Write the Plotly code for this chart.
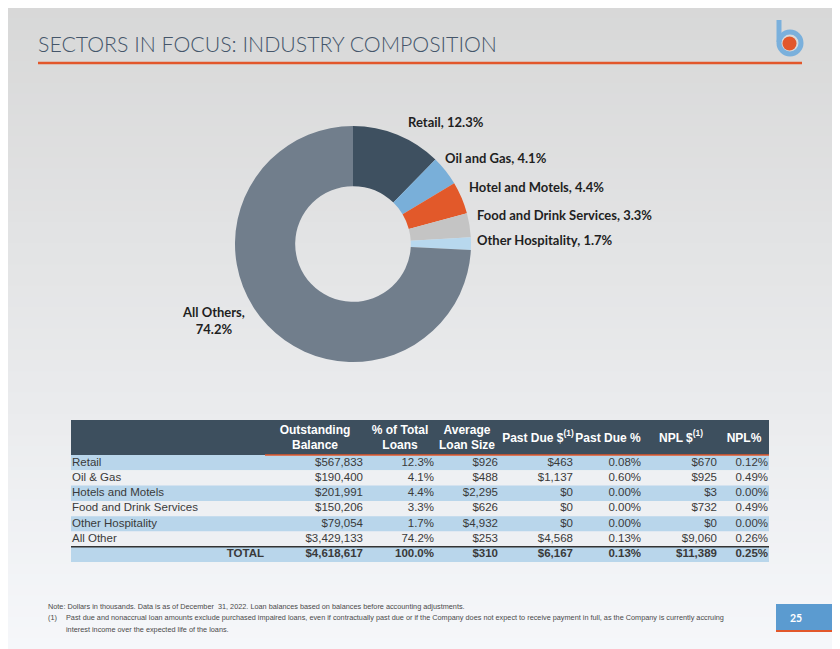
import plotly.graph_objects as go

# ---------------- data ----------------
pie_labels = ["Retail", "Oil and Gas", "Hotel and Motels", "Food and Drink Services",
              "Other Hospitality", "All Others"]
pie_pct = [12.3, 4.1, 4.4, 3.3, 1.7, 74.2]

categories = ["Retail", "Oil & Gas", "Hotels and Motels", "Food and Drink Services",
              "Other Hospitality", "All Other"]
balance = [567833, 190400, 201991, 150206, 79054, 3429133]
pct_total = [12.3, 4.1, 4.4, 3.3, 1.7, 74.2]
avg_loan = [926, 488, 2295, 626, 4932, 253]
past_due = [463, 1137, 0, 0, 0, 4568]
past_due_pct = [0.08, 0.60, 0.00, 0.00, 0.00, 0.13]
npl = [670, 925, 3, 732, 0, 9060]
npl_pct = [0.12, 0.49, 0.00, 0.49, 0.00, 0.26]

total_label = "TOTAL"
total_balance = 4618617
total_pct = 100.0
total_avg = 310
total_past_due = 6167
total_past_due_pct = 0.13
total_npl = 11389
total_npl_pct = 0.25

headers = ["Outstanding<br>Balance", "% of Total<br>Loans", "Average<br>Loan Size",
           "Past Due $<sup>(1)</sup>", "Past Due %", "NPL $<sup>(1)</sup>", "NPL%"]

title_text = "SECTORS IN FOCUS: INDUSTRY COMPOSITION"
note_text = ("Note: Dollars in thousands. Data is as of December  31, 2022. "
             "Loan balances based on balances before accounting adjustments.")
fn_mark = "(1)"
fn_line1 = ("Past due and nonaccrual loan amounts exclude purchased impaired loans, even if "
            "contractually past due or if the Company does not expect to receive payment in "
            "full, as the Company is currently accruing")
fn_line2 = "interest income over the expected life of the loans."
page_no = "25"

# ---------------- styling / layout helpers ----------------
PW, PH = 840, 649          # page size
OFF = 8                    # browser body margin
W, H = PW - OFF, PH - OFF  # figure size
pie_colors = ["#3e5060", "#79afd9", "#e2592a", "#c4c4c4", "#b8d8ee", "#717e8c"]
DARK = "#3d4f5e"
ORANGE = "#e2572b"
BLUE_ROW = "#b9d6eb"
GRAY_ROW = "#eef0f3"
TXT = "#3a3a3a"
TFONT = "Liberation Sans, Arial"


def px(x):
    return (x - OFF) / W


def py(y):
    return 1 - (y - OFF) / H


def money(v, bold=False):
    s = f"${v:,.0f}"
    return f"<b>{s}</b>" if bold else s


def pct(v, d, bold=False):
    s = f"{v:.{d}f}%"
    return f"<b>{s}</b>" if bold else s


columns = [
    [money(v) for v in balance] + [money(total_balance, True)],
    [pct(v, 1) for v in pct_total] + [pct(total_pct, 1, True)],
    [money(v) for v in avg_loan] + [money(total_avg, True)],
    [money(v) for v in past_due] + [money(total_past_due, True)],
    [pct(v, 2) for v in past_due_pct] + [pct(total_past_due_pct, 2, True)],
    [money(v) for v in npl] + [money(total_npl, True)],
    [pct(v, 2) for v in npl_pct] + [pct(total_npl_pct, 2, True)],
]
nrows = len(categories) + 1

# table geometry (page pixels)
TL, TR = 71, 769
HDR_TOP, HDR_BOT = 420, 455
RH = 15.3
col_right = [362, 433, 497, 572, 640, 716, 767]
col_center = [315, 400, 467, 538, 608, 681, 744]
row_y = [HDR_BOT + RH * (i + 0.5) for i in range(nrows)]
row_fill = [BLUE_ROW if i % 2 == 0 else GRAY_ROW for i in range(nrows)]
row_fill[-1] = BLUE_ROW

fig = go.Figure()

# ---- pie ----
cx, cy, r = 353, 244, 118
fig.add_trace(go.Pie(
    labels=pie_labels, values=pie_pct, sort=False, direction="clockwise", rotation=0,
    hole=0.49, textinfo="none", showlegend=False, hoverinfo="label+percent",
    marker=dict(colors=pie_colors, line=dict(width=0)),
    domain=dict(x=[px(cx - r), px(cx + r)], y=[py(cy + r), py(cy - r)]),
))

# ---- table: row fills ----
fig.add_trace(go.Bar(
    orientation="h", y=[(HDR_TOP + HDR_BOT) / 2], x=[TR - TL], base=TL,
    width=HDR_BOT - HDR_TOP, marker=dict(color=DARK, line=dict(width=0)),
    hoverinfo="skip", showlegend=False,
))
fig.add_trace(go.Bar(
    orientation="h", y=row_y, x=[TR - TL] * nrows, base=TL, width=RH,
    marker=dict(color=row_fill, line=dict(width=0)),
    hoverinfo="skip", showlegend=False,
))

# ---- table: header text ----
fig.add_trace(go.Scatter(
    x=col_center, y=[438.5] * len(headers), mode="text",
    text=[f"<b>{h}</b>" for h in headers], textposition="middle center",
    textfont=dict(family=TFONT, size=12, color="white"),
    hoverinfo="skip", showlegend=False,
))

# ---- table: body text ----
fig.add_trace(go.Scatter(
    x=[72] * (nrows - 1), y=row_y[:-1], mode="text", text=categories,
    textposition="middle right", textfont=dict(family=TFONT, size=11.5, color=TXT),
    hoverinfo="skip", showlegend=False,
))
fig.add_trace(go.Scatter(
    x=[264], y=[row_y[-1]], mode="text", text=[f"<b>{total_label}</b>"],
    textposition="middle left", textfont=dict(family=TFONT, size=11.5, color=TXT),
    hoverinfo="skip", showlegend=False,
))
for xr, vals in zip(col_right, columns):
    fig.add_trace(go.Scatter(
        x=[xr + 1] * nrows, y=row_y, mode="text", text=vals,
        textposition="middle left", textfont=dict(family=TFONT, size=11.5, color=TXT),
        hoverinfo="skip", showlegend=False,
    ))

# ---- background gradient + decorations ----
shapes = []
nb = 60
top_c, bot_c = (216, 216, 216), (245, 247, 250)
for i in range(nb):
    t = i / (nb - 1)
    c = tuple(round(top_c[k] + (bot_c[k] - top_c[k]) * t) for k in range(3))
    shapes.append(dict(type="rect", xref="paper", yref="paper", layer="below",
                       x0=0, x1=1, y0=max(0, 1 - (i + 1) / nb - 0.002), y1=1 - i / nb,
                       fillcolor=f"rgb{c}", line=dict(width=0)))


def hline(x0, x1, y, color, width):
    return dict(type="line", xref="x", yref="y", x0=x0, x1=x1, y0=y, y1=y,
                line=dict(color=color, width=width))


shapes.append(hline(38, 802, 63, ORANGE, 2.5))            # title rule
shapes.append(hline(265, TR, HDR_BOT, ORANGE, 1.5))       # header rule
shapes.append(hline(TL, TR, HDR_BOT + RH * 6, "#333333", 1.5))  # rule above total
# logo
shapes.append(dict(type="line", xref="x", yref="y", x0=779, x1=779, y0=20, y1=42,
                   line=dict(color="#7ab0dc", width=5)))
shapes.append(dict(type="circle", xref="x", yref="y", x0=779, x1=801, y0=32, y1=54,
                   line=dict(color="#7ab0dc", width=5), fillcolor="rgba(0,0,0,0)"))
shapes.append(dict(type="circle", xref="x", yref="y", x0=782.5, x1=796.5, y0=36.5, y1=50.5,
                   line=dict(width=0), fillcolor=ORANGE))
# page number box
shapes.append(dict(type="rect", xref="x", yref="y", x0=776, x1=PW, y0=604, y1=630,
                   fillcolor="#5b9bd0", line=dict(width=0)))
shapes.append(hline(776, PW, 631, ORANGE, 2))

annotations = []
# pie labels
label_pos = [(406, 122), (443, 158), (467, 187), (475, 215), (475, 240)]
LBL_FONT = dict(family="Lato", size=13, color="#1f1f1f")
for (lx, ly), lab, p in zip(label_pos, pie_labels[:5], pie_pct[:5]):
    annotations.append(dict(x=lx, y=ly, xref="x", yref="y",
                            xanchor="left", yanchor="middle", showarrow=False,
                            text=f"<b>{lab}, {p:.1f}%</b>", font=LBL_FONT))
annotations.append(dict(x=213, y=320.5, xref="x", yref="y",
                        xanchor="center", yanchor="middle", showarrow=False, align="center",
                        text=f"<b>{pie_labels[5]},<br>{pie_pct[5]:.1f}%</b>", font=LBL_FONT))
# title
annotations.append(dict(x=36, y=44, xref="x", yref="y", xanchor="left",
                        yanchor="middle", showarrow=False, text=title_text,
                        font=dict(family="Lato", size=21.3, color="#45566a", weight=300)))
# footnotes
fn_font = dict(family="Liberation Sans", size=7.3, color="#4a4a4a")
for xx, yy, tt in [(46, 606, note_text), (46, 617, fn_mark), (64, 617, fn_line1),
                   (64, 629, fn_line2)]:
    annotations.append(dict(x=xx, y=yy, xref="x", yref="y", xanchor="left",
                            yanchor="middle", showarrow=False, text=tt, font=fn_font))
# page number
annotations.append(dict(x=796, y=617.5, xref="x", yref="y", xanchor="center",
                        yanchor="middle", showarrow=False, text=f"<b>{page_no}</b>",
                        font=dict(family="Lato", size=10.5, color="white")))

fig.update_layout(
    width=W, height=H, margin=dict(l=0, r=0, t=0, b=0),
    paper_bgcolor="#e6e7e9", plot_bgcolor="rgba(0,0,0,0)",
    xaxis=dict(range=[OFF, PW], visible=False, fixedrange=True, domain=[0, 1]),
    yaxis=dict(range=[PH, OFF], visible=False, fixedrange=True, domain=[0, 1]),
    barmode="overlay",
    shapes=shapes, annotations=annotations, showlegend=False,
)

fig.write_html("out.html")
